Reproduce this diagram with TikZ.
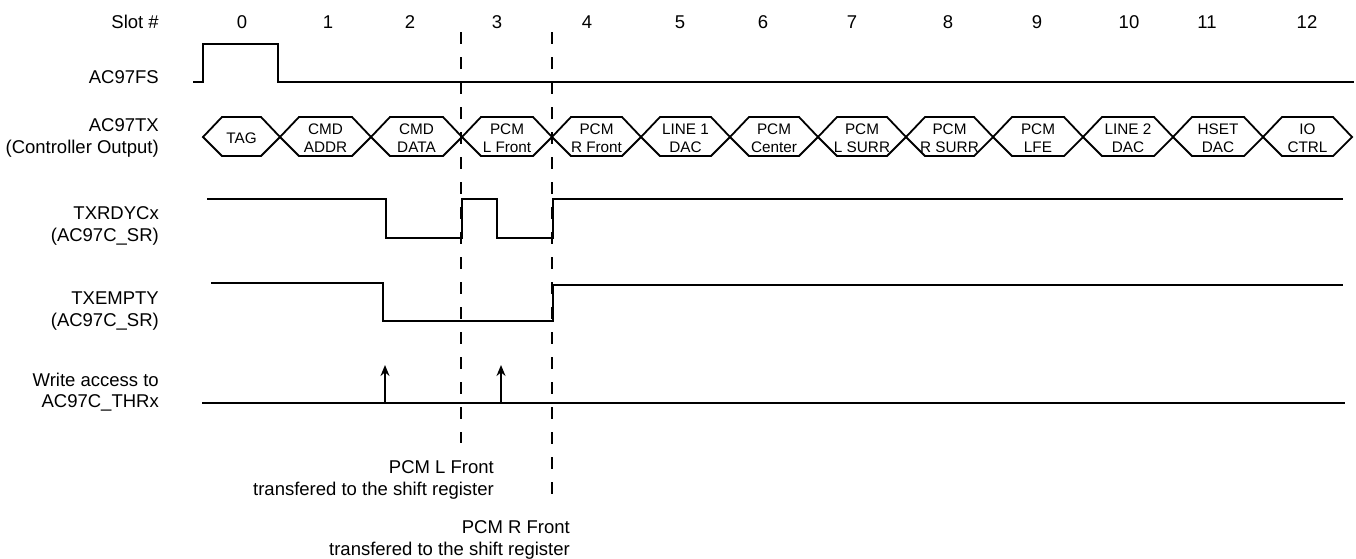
\documentclass[tikz,border=0pt]{standalone}
\usepackage{fontspec}
\setmainfont{Liberation Sans}
\usetikzlibrary{arrows.meta}
\begin{document}
\begin{tikzpicture}[x=1pt,y=-1pt,
  lbl/.style={font=\fontsize{18.5}{21.5}\selectfont, align=right, anchor=east, inner sep=0pt},
  num/.style={font=\fontsize{18.5}{21.5}\selectfont, inner sep=0pt},
  hexbox/.style={draw, line width=1.8pt, line join=miter},
  htxt/.style={font=\fontsize{15.3}{18}\selectfont, align=center, inner sep=0pt},
  sig/.style={line width=2.2pt, line join=miter},
  vguide/.style={line width=1.2pt, dash pattern=on 12pt off 13pt},
  wrarrow/.style={line width=1.4pt, -{Stealth[length=11pt,width=9pt]}},
  note/.style={font=\fontsize{18.5}{22}\selectfont, align=right, anchor=east, inner sep=0pt}]
\useasboundingbox (0,0) rectangle (1356,558);

% left labels
\node[lbl] (lslot) at (159,22) {Slot \#};
\node[lbl] (lfs) at (159,77) {AC97FS};
\node[lbl] (ltx) at (159,138) {AC97TX\\(Controller Output)};
\node[lbl] (lrdy) at (159,226) {TXRDYCx\\(AC97C\_SR)};
\node[lbl] (lemp) at (159,311) {TXEMPTY\\(AC97C\_SR)};
\node[lbl] (lwr) at (159,392) {Write access to\\AC97C\_THRx};

% slot numbers
\foreach \x [count=\i from 0] in {242,328,410,497,587,680,763,852,948,1037,1129,1207,1307}
  \node[num, anchor=base] (n\i) at (\x,28) {\i};

% hexagons
\foreach \a/\b/\t [count=\i] in {203/280/TAG, 280/371/{CMD\\ADDR}, 371/462/{CMD\\DATA},
   462/552/{PCM\\L Front}, 552/641/{PCM\\R Front}, 641/730/{LINE 1\\DAC},
   730/818/{PCM\\Center}, 818/906/{PCM\\L SURR}, 906/993/{PCM\\R SURR},
   993/1083/{PCM\\LFE}, 1083/1173/{LINE 2\\DAC}, 1173/1263/{HSET\\DAC},
   1263/1352/{IO\\CTRL}}
{
  \draw[hexbox] (\a,137) -- (\a+19,117) -- (\b-19,117) -- (\b,137) -- (\b-19,156) -- (\a+19,156) -- cycle;
  \node[htxt] (h\i) at ({(\a+\b)/2},138) {\t};
}

% dashed guides
\draw[vguide] (461,32) -- (461,443);
\draw[vguide] (552,32) -- (552,495);

% AC97FS
\draw[sig] (193,82) -- (203,82) -- (203,44) -- (278,44) -- (278,82) -- (1354,82);
% TXRDYCx
\draw[sig] (207,199) -- (386,199) -- (386,238) -- (462,238) -- (462,199) -- (497,199)
  -- (497,238) -- (553,238) -- (553,199) -- (1343,199);
% TXEMPTY
\draw[sig] (211,283) -- (383,283) -- (383,321) -- (553,321) -- (553,285) -- (1343,285);
% Write access
\draw[sig] (202,403) -- (1345,403);
\coordinate (w1) at (385,403);
\coordinate (w1t) at (385,365);
\coordinate (w2) at (501,403);
\coordinate (w2t) at (501,365);
\draw[wrarrow] (w1) -- (w1t);
\draw[wrarrow] (w2) -- (w2t);

% notes
\node[note] (nl) at (494,480) {PCM L Front\\transfered to the shift register};
\node[note] (nr) at (570,540) {PCM R Front\\transfered to the shift register};
\end{tikzpicture}
\end{document}
